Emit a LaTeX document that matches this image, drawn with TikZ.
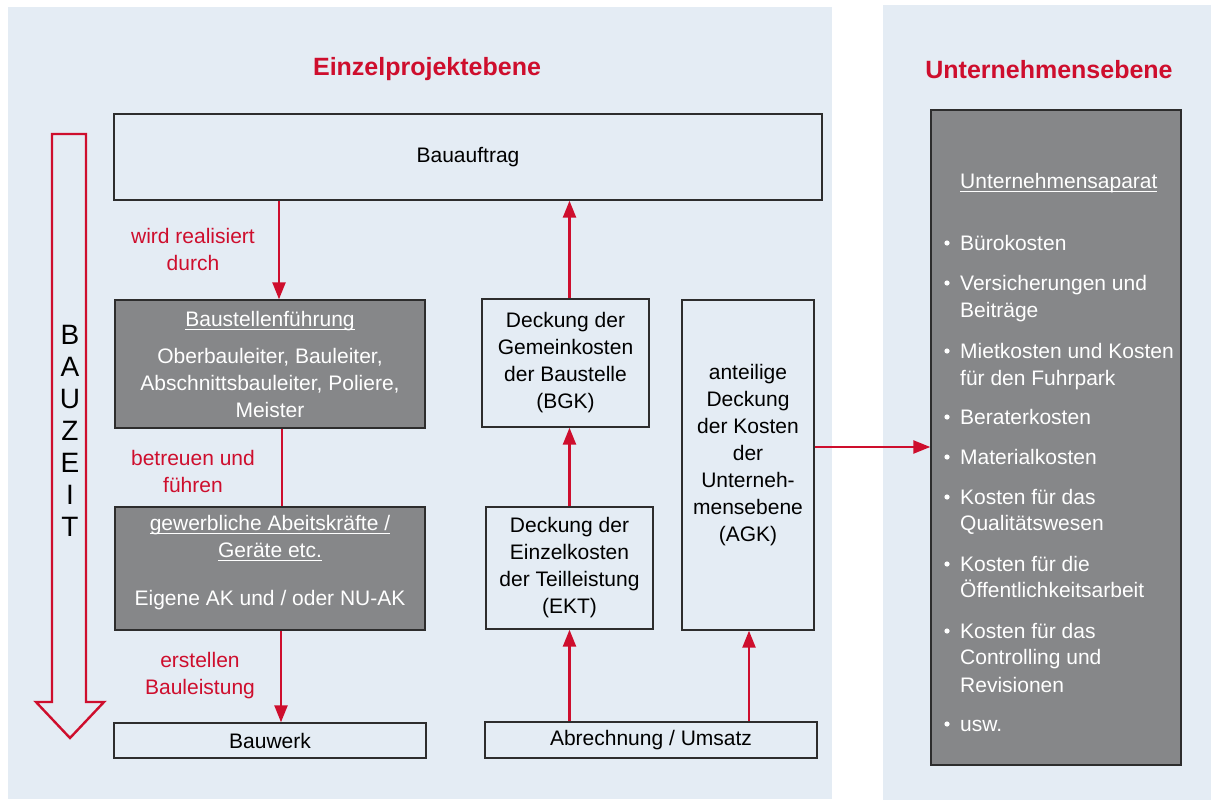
\documentclass[tikz,border=0pt]{standalone}
\usepackage{fontspec}
\setmainfont{Liberation Sans}
\usetikzlibrary{arrows.meta}
\definecolor{panelbg}{RGB}{228,236,244}
\definecolor{dbred}{RGB}{206,14,45}
\definecolor{boxgray}{RGB}{134,135,137}
\definecolor{boxline}{RGB}{45,45,45}
\newcommand\ulx[1]{\setbox0\hbox{#1}\rlap{\rule[-3.5pt]{\wd0}{1pt}}\box0}
\begin{document}
\begin{tikzpicture}[x=1pt,y=-1pt,
  every node/.style={inner sep=0pt, font=\fontsize{21}{27}\selectfont},
  lbox/.style={draw=boxline, line width=1.4pt, fill=panelbg, align=center},
  gbox/.style={draw=boxline, line width=1.4pt, fill=boxgray, text=white, align=center},
  lab/.style={text=dbred, align=center},
  ttl/.style={text=dbred, font=\fontsize{25}{30}\selectfont\bfseries},
  conn/.style={draw=dbred, line width=2.4pt},
  arr/.style={conn, -{Triangle[length=17pt,width=13pt]}},
  wtext/.style={anchor=base west, text=white},
]
\useasboundingbox (0,0) rectangle (1211,800);
\fill[panelbg] (8,7) rectangle (832,799);
\fill[panelbg] (883,5) rectangle (1211,800);

% titles
\node[ttl] (t1) at (427,69) {Einzelprojektebene};
\node[ttl] (t2) at (1049,70) {Unternehmensebene};

% Bauzeit arrow
\draw[dbred, line width=2.4pt, line join=miter] (52,134) -- (86,134) -- (86,702) -- (104,702) -- (70,738) -- (36,702) -- (52,702) -- cycle;
\node[font=\fontsize{28}{32}\selectfont, align=center] (bauzeit) at (70,431) {B\\A\\U\\Z\\E\\I\\T};

% boxes
\node[lbox, minimum width=708pt, minimum height=86pt] (auftrag) at (468,157) {Bauauftrag};
\node[gbox, minimum width=310pt, minimum height=128pt] (bsf) at (270,364)
  {\ulx{Baustellenführung}\\[10pt]Oberbauleiter, Bauleiter,\\Abschnittsbauleiter, Poliere,\\Meister};
\node[gbox, minimum width=310pt, minimum height=123pt] (gew) at (270,568.5) {};
\node[align=center, text=white] (gewt) at (270,562.5)
  {\ulx{gewerbliche Abeitskräfte /}\\\ulx{Geräte etc.}\\[21pt]Eigene AK und / oder NU-AK};
\node[lbox, minimum width=312pt, minimum height=35pt] (bauwerk) at (270,740.5) {Bauwerk};
\node[lbox, minimum width=167pt, minimum height=128pt] (bgk) at (565.5,363)
  {Deckung der\\Gemeinkosten\\der Baustelle\\(BGK)};
\node[lbox, minimum width=167pt, minimum height=122pt] (ekt) at (569.5,568)
  {Deckung der\\Einzelkosten\\der Teilleistung\\(EKT)};
\node[lbox, minimum width=132pt, minimum height=330pt] (agk) at (748,465) {};
\node[align=center] (agkt) at (748,455.5)
  {anteilige\\Deckung\\der Kosten\\der\\Unterneh-\\mensebene\\(AGK)};
\node[lbox, minimum width=332pt, minimum height=36pt] (abr) at (651,740) {Abrechnung / Umsatz};
\node[gbox, minimum width=250pt, minimum height=655pt] (ua) at (1056,437.5) {};

% right list
\node[wtext] (uah) at (960,188) {\ulx{Unternehmensaparat}};
\foreach \y/\t [count=\i] in {243/Bürokosten, 283/Versicherungen und, 310/Beiträge,
  351/Mietkosten und Kosten, 378/für den Fuhrpark, 417/Beraterkosten, 457/Materialkosten,
  497/Kosten für das, 523/Qualitätswesen, 564/Kosten für die, 590/Öffentlichkeitsarbeit,
  631/Kosten für das, 657/Controlling und, 685/Revisionen, 724/usw.}
  \node[wtext] (li\i) at (960,\y+7) {\t};
\foreach \y in {243,283,351,417,457,497,564,631,724}
  \fill[white] (947,\y) circle (2.6pt);

% labels
\node[lab] (l1) at (193,249) {wird realisiert\\durch};
\node[lab] (l2) at (193,471) {betreuen und\\führen};
\node[lab] (l3) at (200,676) {erstellen\\Bauleistung};

% connectors
\coordinate (xa) at (279,0);
\coordinate (xb) at (282,0);
\coordinate (xc) at (281,0);
\coordinate (xd) at (569.5,0);
\coordinate (xe) at (749,0);
\coordinate (ya) at (0,447);
\draw[arr] (auftrag.south -| xa) -- (bsf.north -| xa);
\draw[conn] (bsf.south -| xb) -- (gew.north -| xb);
\draw[arr] (gew.south -| xc) -- (bauwerk.north -| xc);
\draw[arr] (bgk.north -| xd) -- (auftrag.south -| xd);
\draw[arr] (ekt.north -| xd) -- (bgk.south -| xd);
\draw[arr] (abr.north -| xd) -- (ekt.south -| xd);
\draw[arr] (abr.north -| xe) -- (agk.south -| xe);
\draw[arr] (agk.east |- ya) -- (ua.west |- ya);
\end{tikzpicture}
\end{document}
